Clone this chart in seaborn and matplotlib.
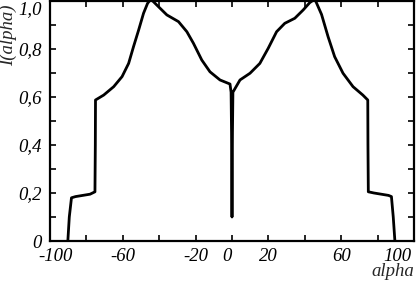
import numpy as np
import pandas as pd
import matplotlib
matplotlib.use("Agg")
import matplotlib.pyplot as plt
import matplotlib.transforms as mtransforms
import seaborn as sns

alpha = [-90.2, -89.4, -88.2, -86, -82, -78, -75.3, -75.1, -75.0,
         -70.5, -65.0, -60.4, -56.8, -54.1, -51.3, -48.6, -46.4, -44.6,
         -41.3, -35.8, -29.4, -24.8, -21.2, -16.6, -12.1, -6.6, -1.1,
         -0.5, -0.25, 0, 0.25, 0.5,
         4.4, 9.9, 15.3, 19.9, 24.5, 29.0, 34.5, 39.1, 42.7, 45.5,
         49.2, 52.8, 56.4, 61.0, 66.5, 71.9, 74.6, 74.7, 74.9,
         78, 82, 86, 87.6, 88.6, 89.5]
intensity = [0.0, 0.10, 0.18, 0.185, 0.19, 0.195, 0.205, 0.40, 0.5875,
             0.608, 0.643, 0.685, 0.740, 0.810, 0.879, 0.949, 0.99, 1.008,
             0.983, 0.942, 0.914, 0.872, 0.824, 0.754, 0.705, 0.671, 0.654,
             0.62, 0.45, 0.10, 0.45, 0.62,
             0.671, 0.699, 0.740, 0.803, 0.872, 0.907, 0.928, 0.9625, 0.993, 1.008,
             0.944, 0.851, 0.768, 0.699, 0.643, 0.608, 0.5875, 0.40, 0.205,
             0.20, 0.195, 0.19, 0.185, 0.10, 0.0]

x_ticks = [-100, -80, -60, -40, -20, 0, 20, 40, 60, 80, 100]
x_labels = ["-100", "", "-60", "", "-20", "0", "20", "", "60", "", "100"]
y_ticks = [0, 0.1, 0.2, 0.3, 0.4, 0.5, 0.6, 0.7, 0.8, 0.9, 1.0]
y_labels = ["0", "", "0,2", "", "0,4", "", "0,6", "", "0,8", "", "1,0"]

sns.set_style("ticks")
plt.rcParams['font.family'] = ['Liberation Serif', 'DejaVu Serif']
plt.rcParams['font.style'] = 'italic'

df = pd.DataFrame({"alpha": alpha, "I": intensity})

fig = plt.figure(figsize=(4.16, 2.84), dpi=100)
ax = fig.add_axes([50/416, 1 - 241/284, 364/416, 240/284])
sns.lineplot(data=df, x="alpha", y="I", sort=False, estimator=None, color="black",
             linewidth=2.0, ax=ax)

ax.set_xlim(-100, 100)
ax.set_ylim(0, 1.0)
ax.set_xticks(x_ticks)
ax.set_xticklabels(x_labels)
ax.set_yticks(y_ticks)
ax.set_yticklabels(y_labels)
for sp in ax.spines.values():
    sp.set_linewidth(1.6)
    sp.set_color("black")
ax.tick_params(direction="in", length=4, width=1.2, top=True, right=True,
               labelsize=13.5, pad=6, colors="black")
ax.tick_params(axis="x", pad=5)
ax.get_yticklabels()[-1].set_va("top")
xl = ax.get_xticklabels()
xl[-1].set_transform(xl[-1].get_transform() + mtransforms.ScaledTranslation(-0.17, 0, fig.dpi_scale_trans))
xl[5].set_transform(xl[5].get_transform() + mtransforms.ScaledTranslation(-0.05, 0, fig.dpi_scale_trans))
xl[0].set_transform(xl[0].get_transform() + mtransforms.ScaledTranslation(0.05, 0, fig.dpi_scale_trans))
for t in ax.get_xticklabels() + ax.get_yticklabels():
    t.set_fontstyle("italic")

ax.set_xlabel("")
ax.set_ylabel("")
fig.text(414/416, 1 - 272/284, "alpha", ha="right", va="center", fontsize=13.5, style="italic")
fig.text(8/416, 1 - 35/284, "I(alpha)", ha="center", va="center", rotation=90, fontsize=13.5, style="italic")

fig.savefig("out.png", dpi=100)
